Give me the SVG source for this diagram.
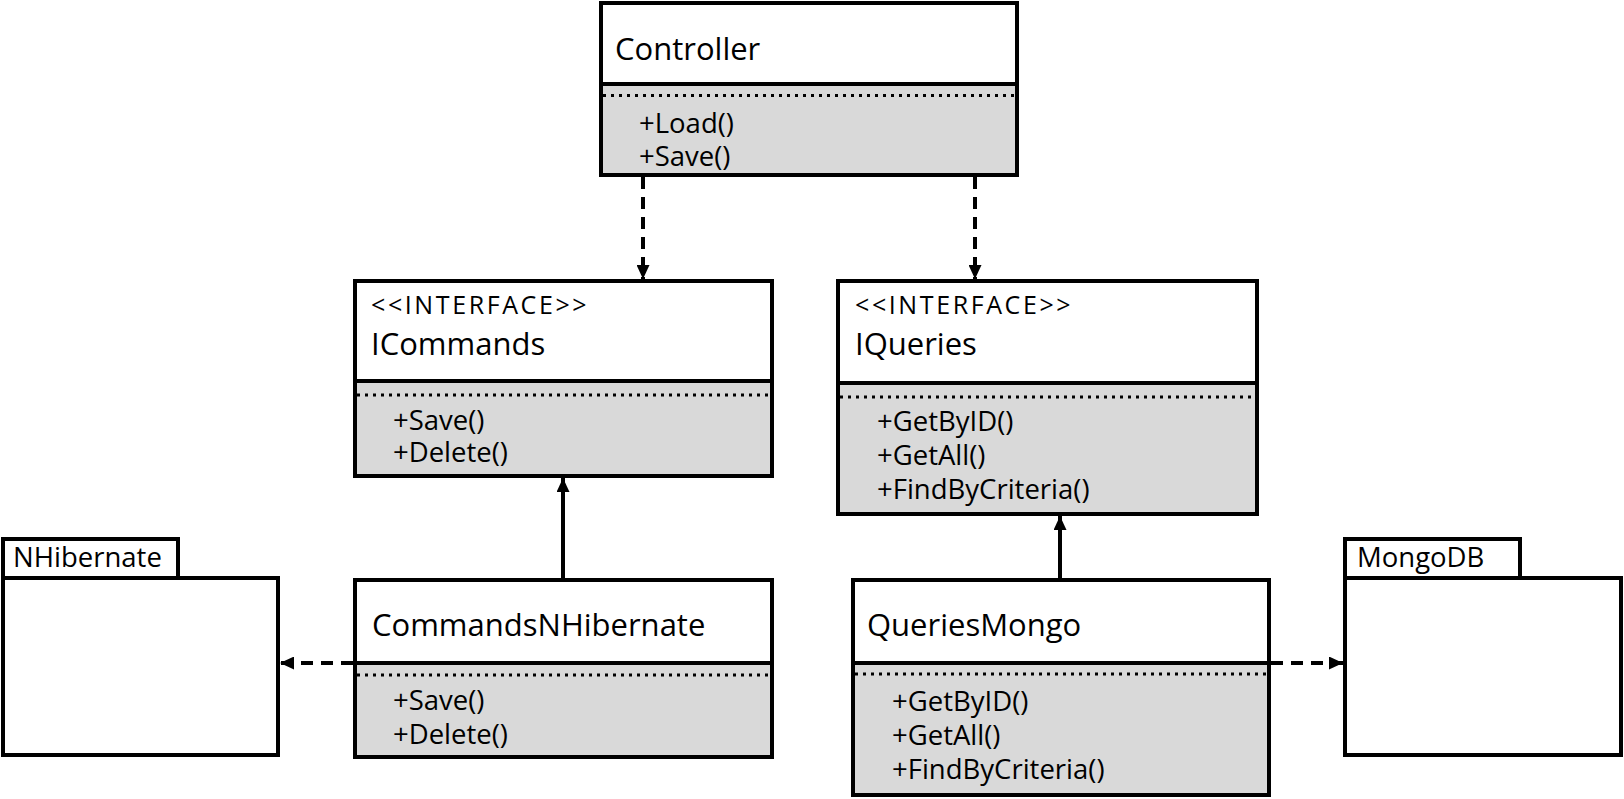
<svg xmlns="http://www.w3.org/2000/svg" width="1624" height="799" viewBox="0 0 1624 799">
<defs>
<style>
.box{fill:#fff;stroke:#000;stroke-width:4}
.ops{fill:#d9d9d9;stroke:#000;stroke-width:4}
.dot{stroke:#000;stroke-width:3;stroke-dasharray:3 5;fill:none}
.title{font-family:"Open Sans","Liberation Sans",sans-serif;font-size:31px;fill:#000}
.stereo{font-family:"Open Sans","Liberation Sans",sans-serif;font-size:25px;letter-spacing:2.6px;fill:#000}
.op{font-family:"Open Sans","Liberation Sans",sans-serif;font-size:27.5px;fill:#000}
.pkg{font-family:"Open Sans","Liberation Sans",sans-serif;font-size:27.5px;fill:#000}
.dash{stroke:#000;stroke-width:4;stroke-dasharray:12 8;fill:none}
.solid{stroke:#000;stroke-width:4;fill:none}
</style>
<marker id="arr" viewBox="0 0 14 13" refX="14" refY="6.5" markerWidth="14" markerHeight="13" markerUnits="userSpaceOnUse" orient="auto">
<path d="M0,0 L14,6.5 L0,13 Z" fill="#000"/>
</marker>
</defs>

<g id="controller">
<rect class="box" x="601" y="3" width="416" height="81"/>
<rect class="ops" x="601" y="84" width="416" height="91"/>
<line class="dot" x1="603" y1="95.5" x2="1015" y2="95.5"/>
<text class="title" x="615" y="60">Controller</text>
<text class="op" x="639" y="133">+Load()</text>
<text class="op" x="639" y="166">+Save()</text>
</g>

<g id="icommands">
<rect class="box" x="355" y="281" width="417" height="100"/>
<rect class="ops" x="355" y="381" width="417" height="95"/>
<line class="dot" x1="357" y1="395" x2="770" y2="395"/>
<text class="stereo" x="371" y="314">&lt;&lt;INTERFACE&gt;&gt;</text>
<text class="title" x="371" y="355">ICommands</text>
<text class="op" x="393" y="430">+Save()</text>
<text class="op" x="393" y="462">+Delete()</text>
</g>

<g id="iqueries">
<rect class="box" x="838" y="281" width="419" height="102"/>
<rect class="ops" x="838" y="383" width="419" height="131"/>
<line class="dot" x1="840" y1="397" x2="1255" y2="397"/>
<text class="stereo" x="855" y="314">&lt;&lt;INTERFACE&gt;&gt;</text>
<text class="title" x="855" y="355">IQueries</text>
<text class="op" x="877" y="431">+GetByID()</text>
<text class="op" x="877" y="465">+GetAll()</text>
<text class="op" x="877" y="499">+FindByCriteria()</text>
</g>

<g id="nhibernate">
<rect class="box" x="3" y="539" width="175" height="39"/>
<rect class="box" x="3" y="578" width="275" height="177"/>
<text class="pkg" x="13" y="567">NHibernate</text>
</g>

<g id="commandsnhibernate">
<rect class="box" x="355" y="580" width="417" height="83"/>
<rect class="ops" x="355" y="663" width="417" height="94"/>
<line class="dot" x1="357" y1="675" x2="770" y2="675"/>
<text class="title" x="372" y="636">CommandsNHibernate</text>
<text class="op" x="393" y="710">+Save()</text>
<text class="op" x="393" y="744">+Delete()</text>
</g>

<g id="queriesmongo">
<rect class="box" x="853" y="580" width="416" height="83"/>
<rect class="ops" x="853" y="663" width="416" height="132"/>
<line class="dot" x1="855" y1="674" x2="1267" y2="674"/>
<text class="title" x="867" y="636">QueriesMongo</text>
<text class="op" x="892" y="711">+GetByID()</text>
<text class="op" x="892" y="745">+GetAll()</text>
<text class="op" x="892" y="779">+FindByCriteria()</text>
</g>

<g id="mongodb">
<rect class="box" x="1345" y="539" width="175" height="39"/>
<rect class="box" x="1345" y="578" width="276" height="177"/>
<text class="pkg" x="1357" y="567">MongoDB</text>
</g>

<g id="connectors">
<line class="dash" x1="643" y1="177" x2="643" y2="279" marker-end="url(#arr)"/>
<line class="dash" x1="975" y1="177" x2="975" y2="279" marker-end="url(#arr)"/>
<line class="solid" x1="563" y1="578" x2="563" y2="478" marker-end="url(#arr)"/>
<line class="solid" x1="1060" y1="578" x2="1060" y2="516" marker-end="url(#arr)"/>
<line class="dash" x1="353" y1="663" x2="280" y2="663" marker-end="url(#arr)"/>
<line class="dash" x1="1271" y1="663" x2="1343" y2="663" marker-end="url(#arr)"/>
</g>
</svg>
